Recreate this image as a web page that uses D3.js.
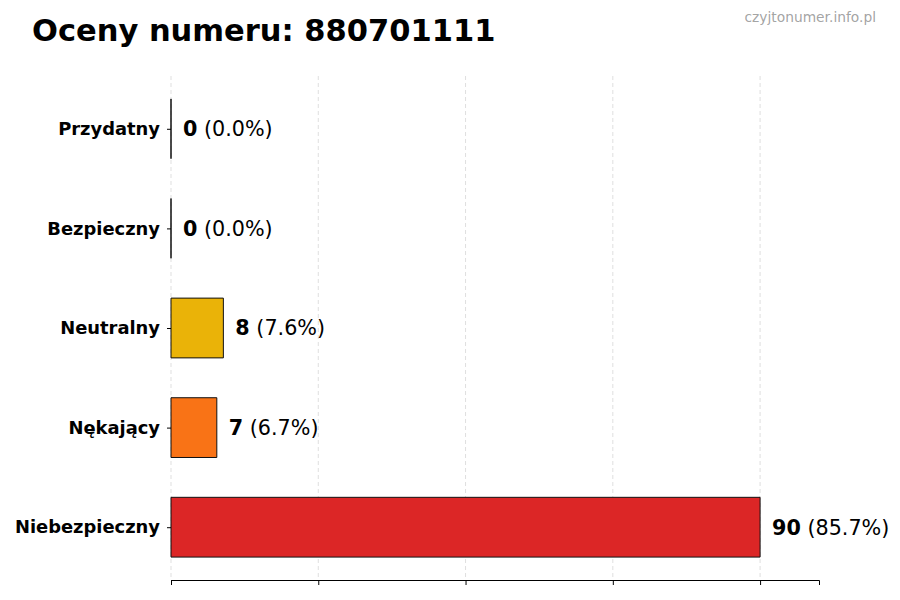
<!DOCTYPE html>
<html><head><meta charset="utf-8">
<script src="https://cdn.jsdelivr.net/npm/d3@7"></script>
<style>body{margin:0;background:#fff;}svg{display:block;font-family:"DejaVu Sans",sans-serif;}</style>
</head><body>
<svg id="c" width="900" height="600"></svg>
<script>
const categories = ["Niebezpieczny", "Nękający", "Neutralny", "Bezpieczny", "Przydatny"];
const counts = [90, 7, 8, 0, 0];
const percents = ["85.7%", "6.7%", "7.6%", "0.0%", "0.0%"];
const colors = ["#dc2626", "#f97316", "#eab308", "#22c55e", "#16a34a"];
const xTicks = [0, 22.5, 45, 67.5, 90];
const titleText = "Oceny numeru: 880701111";
const watermark = "czyjtonumer.info.pl";

const svg = d3.select("#c");
const mLeft = 171, mRight = 819, mTop = 76, mBottom = 580;
const maxV = d3.max(counts);
const x = d3.scaleLinear().domain([0, maxV * 1.1]).range([mLeft, mRight]);
const y = d3.scaleLinear().domain([-0.53, categories.length - 1 + 0.53]).range([mBottom, mTop]);
const barH = 0.6;

// grid
svg.append("g").selectAll("line").data(xTicks).join("line")
  .attr("x1", d => x(d)).attr("x2", d => x(d))
  .attr("y1", mTop).attr("y2", mBottom)
  .attr("stroke", "#b0b0b0").attr("stroke-opacity", 0.5)
  .attr("stroke-width", 0.8).attr("stroke-dasharray", "4,3");

// bars
const idx = d3.range(categories.length);
svg.append("g").selectAll("path").data(idx).join("path")
  .attr("d", i => {
    const x0 = x(0), x1 = x(counts[i]);
    const y0 = y(i + barH / 2), y1 = y(i - barH / 2);
    return `M${x0},${y0}H${x1}V${y1}H${x0}Z`;
  })
  .attr("fill", i => colors[i])
  .attr("stroke", "#111").attr("stroke-width", 1);

// value labels
const lab = svg.append("g").selectAll("text").data(idx).join("text")
  .attr("x", i => x(counts[i]) + 12)
  .attr("y", i => y(i))
  .attr("dy", "0.36em")
  .attr("font-size", 20.7)
  .attr("fill", "#000");
lab.append("tspan").attr("font-weight", "bold").text(i => counts[i]);
lab.append("tspan").text(i => " (" + percents[i] + ")");

// x axis (no labels)
const xAxis = d3.axisBottom(x).tickValues(xTicks).tickFormat("").tickSizeOuter(0).tickSize(5);
const gx = svg.append("g").attr("transform", `translate(0,${mBottom})`).call(xAxis);
gx.select(".domain").attr("stroke", "#000").attr("stroke-width", 1);
gx.selectAll(".tick line").attr("stroke", "#000");

// y axis
const yAxis = d3.axisLeft(y).tickValues(idx).tickFormat(i => categories[i]).tickSize(4).tickPadding(7);
const gy = svg.append("g").attr("transform", `translate(${mLeft},0)`).call(yAxis);
gy.select(".domain").remove();
gy.selectAll(".tick line").attr("stroke", "#000");
gy.selectAll(".tick text").attr("font-size", 17.9).attr("font-weight", "bold")
  .attr("fill", "#000").attr("font-family", "DejaVu Sans, sans-serif");

// title
svg.append("text").attr("x", 32).attr("y", 41).attr("font-size", 30.5)
  .attr("font-weight", "bold").attr("fill", "#000").text(titleText);

// watermark
svg.append("text").attr("x", 876).attr("y", 22).attr("text-anchor", "end")
  .attr("font-size", 13.8).attr("fill", "#999").attr("fill-opacity", 0.9).text(watermark);
</script>
</body></html>
